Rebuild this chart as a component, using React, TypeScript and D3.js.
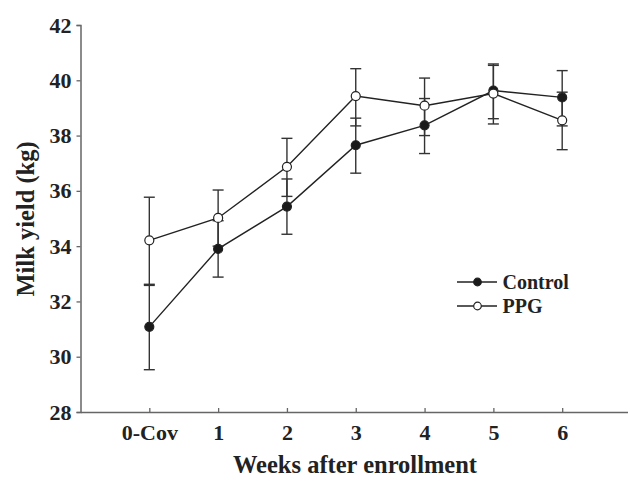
import { useEffect, useRef } from 'react'
import * as d3 from 'd3'

const categories = ['0-Cov', '1', '2', '3', '4', '5', '6']
const controlMean = [31.08, 33.9, 35.43, 37.65, 38.37, 39.63, 39.38]
const controlUpper = [32.58, 34.92, 36.43, 38.63, 39.34, 40.59, 40.35]
const controlLower = [29.53, 32.88, 34.43, 36.64, 37.35, 38.61, 38.35]
const ppgMean = [34.21, 35.02, 36.87, 39.43, 39.08, 39.52, 38.55]
const ppgUpper = [35.77, 36.03, 37.9, 40.42, 40.08, 40.54, 39.57]
const ppgLower = [32.62, 34.0, 35.8, 38.35, 38.0, 38.42, 37.49]
const yTicks = [28, 30, 32, 34, 36, 38, 40, 42]
const seriesNames = ['Control', 'PPG']

const W = 628, H = 479
const FONT = '"Liberation Serif", "Times New Roman", serif'

export default function App() {
  const ref = useRef<SVGSVGElement>(null)
  useEffect(() => {
    if (!ref.current) return
    document.body.style.margin = '0'
    const svg = d3.select(ref.current)
    svg.selectAll('*').remove()

    const x = d3.scaleLinear().domain([-1, 7]).range([80.5, 631])
    const y = d3.scaleLinear().domain([28, 42]).range([412, 25])
    const axisColor = '#666'

    // y axis
    const ya = svg.append('g').attr('transform', 'translate(80.5,0)')
      .call(d3.axisLeft(y).tickValues(yTicks).tickSize(4).tickPadding(5).tickFormat(d3.format('d')))
    ya.select('.domain').attr('stroke', axisColor).attr('stroke-width', 1.5)
    ya.selectAll('.tick line').attr('stroke', axisColor).attr('stroke-width', 1.3)
    ya.selectAll('.tick text').attr('fill', '#222').style('font-family', FONT).style('font-size', '22px').style('font-weight', 'bold')

    // x axis (ticks inward)
    const xa = svg.append('g').attr('transform', 'translate(0,412)')
      .call(d3.axisBottom(x).tickValues(d3.range(categories.length)).tickSizeInner(-4).tickSizeOuter(0).tickPadding(12)
        .tickFormat((d: any) => categories[d]))
    xa.select('.domain').attr('stroke', axisColor).attr('stroke-width', 1.5)
    xa.selectAll('.tick line').attr('stroke', axisColor).attr('stroke-width', 1.3)
    xa.selectAll('.tick text').attr('fill', '#222').attr('dy', '0.71em').style('font-family', FONT).style('font-size', '22px').style('font-weight', 'bold')

    // titles
    svg.append('text').attr('x', 355).attr('y', 473).attr('text-anchor', 'middle')
      .style('font-family', FONT).style('font-size', '24.5px').style('font-weight', 'bold').attr('fill', '#222')
      .text('Weeks after enrollment')
    svg.append('text').attr('transform', 'translate(34,219) rotate(-90)').attr('text-anchor', 'middle')
      .style('font-family', FONT).style('font-size', '24.5px').style('font-weight', 'bold').attr('fill', '#222')
      .text('Milk yield (kg)')

    const series = [
      { mean: controlMean, upper: controlUpper, lower: controlLower, fill: '#1a1a1a' },
      { mean: ppgMean, upper: ppgUpper, lower: ppgLower, fill: '#fff' },
    ]
    const line = d3.line<number>().x((_, i) => x(i)).y(d => y(d))

    series.forEach(s => {
      svg.append('path').attr('d', line(s.mean)).attr('fill', 'none').attr('stroke', '#222').attr('stroke-width', 1.4)
    })
    series.forEach(s => {
      const g = svg.append('g').attr('stroke', '#333').attr('stroke-width', 1.4)
      s.mean.forEach((_, i) => {
        const cx = x(i)
        g.append('line').attr('x1', cx).attr('x2', cx).attr('y1', y(s.upper[i])).attr('y2', y(s.lower[i]))
        g.append('line').attr('x1', cx - 5.5).attr('x2', cx + 5.5).attr('y1', y(s.upper[i])).attr('y2', y(s.upper[i]))
        g.append('line').attr('x1', cx - 5.5).attr('x2', cx + 5.5).attr('y1', y(s.lower[i])).attr('y2', y(s.lower[i]))
      })
    })
    series.forEach(s => {
      svg.append('g').selectAll('circle').data(s.mean).join('circle')
        .attr('cx', (_, i) => x(i)).attr('cy', d => y(d)).attr('r', 4.5)
        .attr('fill', s.fill).attr('stroke', '#222').attr('stroke-width', 1.2)
    })

    // legend
    const lg = svg.append('g').attr('transform', 'translate(457,282)')
    series.forEach((s, i) => {
      const row = lg.append('g').attr('transform', `translate(0,${i * 24})`)
      row.append('line').attr('x1', 0).attr('x2', 40).attr('stroke', '#222').attr('stroke-width', 1.4)
      row.append('circle').attr('cx', 20.5).attr('r', 3.8).attr('fill', s.fill).attr('stroke', '#222').attr('stroke-width', 1.2)
      row.append('text').attr('x', 45.5).attr('y', 7).attr('fill', '#222')
        .style('font-family', FONT).style('font-size', '20px').style('font-weight', 'bold')
        .text(seriesNames[i])
    })
  }, [])
  return <svg ref={ref} width={W} height={H} style={{ display: 'block', background: '#fff' }} />
}
